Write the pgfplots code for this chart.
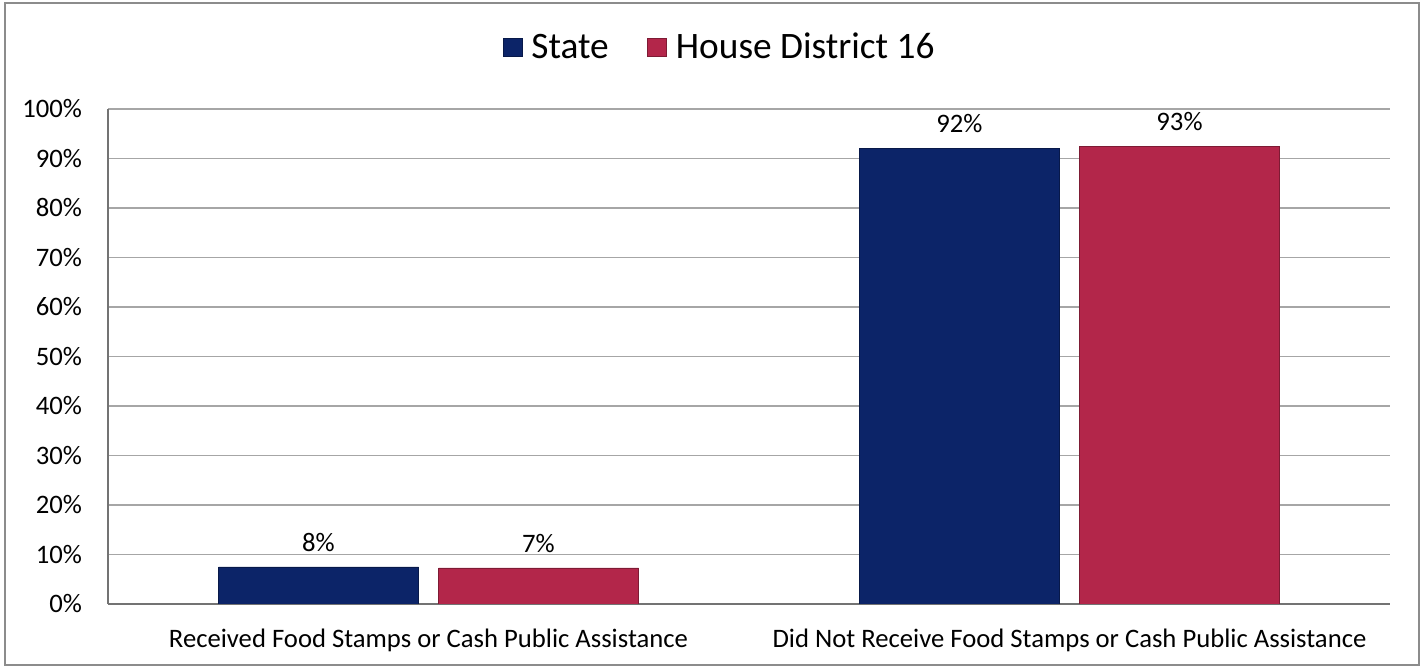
\documentclass[border=0pt]{standalone}
\usepackage{pgfplots}
\pgfplotsset{compat=1.18}
\usepackage{fontspec}
\setmainfont{Carlito}
\definecolor{stateblue}{HTML}{0C2468}
\definecolor{hdred}{HTML}{B3264A}
\definecolor{gridgray}{HTML}{A6A6A6}
\begin{document}
\begin{tikzpicture}[x=0.75pt,y=0.75pt]
\useasboundingbox (0,0) rectangle (1422,667);
\draw[color=black!45, line width=1.5pt] (5,2) rectangle (1419,664);
\begin{axis}[
  at={(81pt,47.25pt)}, anchor=south west,
  scale only axis, width=961.5pt, height=371.25pt,
  ybar=15pt, bar width=150pt,
  xmin=-0.5, xmax=1.5, ymin=0, ymax=100,
  xtick={0,1},
  xticklabels={Received Food Stamps or Cash Public Assistance, Did Not Receive Food Stamps or Cash Public Assistance},
  ytick={0,10,...,100},
  yticklabel={\pgfmathprintnumber{\tick}\%},
  /pgf/number format/assume math mode=true,
  tick label style={font=\fontsize{20}{24}\selectfont},
  yticklabel style={xshift=-16pt},
  xticklabel style={yshift=-15pt},
  major tick length=0pt,
  axis x line*=bottom, axis y line*=left,
  axis line style={draw=black!55, line width=1.2pt},
  ymajorgrids, grid style={draw=gridgray, line width=1pt},
  nodes near coords={\pgfmathprintnumber[fixed,precision=0]{\pgfplotspointmeta}\%},
  every node near coord/.append style={font=\fontsize{20}{24}\selectfont, yshift=8pt, color=black},
  legend style={at={(0.4774,1.125)}, anchor=center, draw=none, fill=none,
    legend columns=-1, font=\fontsize{28}{32}\selectfont,
    /tikz/every odd column/.append style={column sep=5pt},
    /tikz/every even column/.append style={column sep=27pt}},
  legend image code/.code={\fill[#1] (0pt,-7pt) rectangle (14pt,7pt);},
]
\addplot[fill=stateblue, draw=stateblue!70!black] coordinates {(0,7.5) (1,92.1)};
\addplot[fill=hdred, draw=hdred!70!black] coordinates {(0,7.3) (1,92.5)};
\legend{State, House District 16}
\end{axis}
\end{tikzpicture}
\end{document}
